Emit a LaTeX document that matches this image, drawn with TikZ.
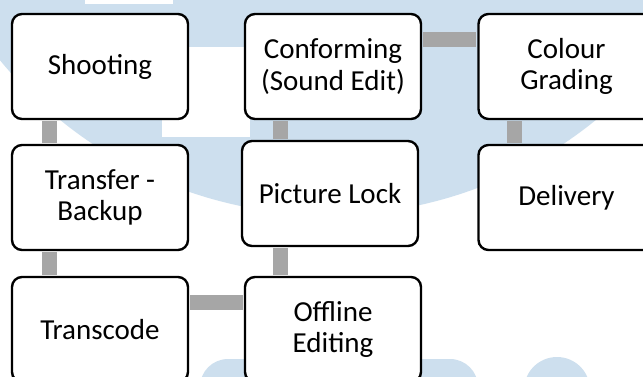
\documentclass[tikz,border=0pt]{standalone}
\usepackage{fontspec}
\setmainfont{Carlito}
\usepackage{tikz}
\definecolor{wmblue}{HTML}{CDDFEE}
\definecolor{linkgray}{HTML}{A6A6A6}

\begin{document}
\begin{tikzpicture}[x=1pt,y=-1pt,
  box/.style={draw=black,line width=2.4pt,fill=white,rounded corners=10pt,
    minimum width=176pt,minimum height=105pt,align=center,inner sep=0pt,
    font=\fontsize{29}{31.5}\selectfont},
  link/.style={draw=linkgray,line width=15pt,shorten <=1.2pt,shorten >=1.2pt}]
\useasboundingbox (0,0) rectangle (643,376);
\clip (0,0) rectangle (643,376);
\fill[white] (0,0) rectangle (643,376);
\fill[wmblue] (328,-210) circle (425pt);
\fill[white] (85,-5) rectangle (173,4);
\fill[white] (162,47) rectangle (250,137);
\fill[wmblue,rounded corners=28pt] (200,420) -- (200,359) -- (478,359) -- (478,420) -- cycle;
\fill[wmblue] (557,390) circle (33pt);

\node[box] (shoot) at (100,66.5) {Shooting};
\node[box] (transfer) at (100,197.5) {Transfer -\\Backup};
\node[box] (transcode) at (100,329.5) {Transcode};
\node[box] (offline) at (333,329.5) {Offline\\Editing};
\node[box] (plock) at (330,193.5) {Picture Lock};
\node[box] (conform) at (333,66.5) {Conforming\\(Sound Edit)};
\node[box] (colour) at (566.5,66.5) {Colour\\Grading};
\node[box] (delivery) at (566.5,197.5) {Delivery};

\draw[link] ([xshift=-51pt]shoot.south) -- ([xshift=-51pt]transfer.north);
\draw[link] ([xshift=-51pt]transfer.south) -- ([xshift=-51pt]transcode.north);
\draw[link] ([yshift=26.7pt]transcode.east) -- ([yshift=26.7pt]offline.west);
\draw[link] ([xshift=-52.5pt]offline.north) -- ([xshift=-49.5pt]plock.south);
\draw[link] ([xshift=-49.5pt]plock.north) -- ([xshift=-52.5pt]conform.south);
\draw[link] ([yshift=26.7pt]conform.east) -- ([yshift=26.7pt]colour.west);
\draw[link] ([xshift=-52pt]colour.south) -- ([xshift=-52pt]delivery.north);
\end{tikzpicture}
\end{document}
